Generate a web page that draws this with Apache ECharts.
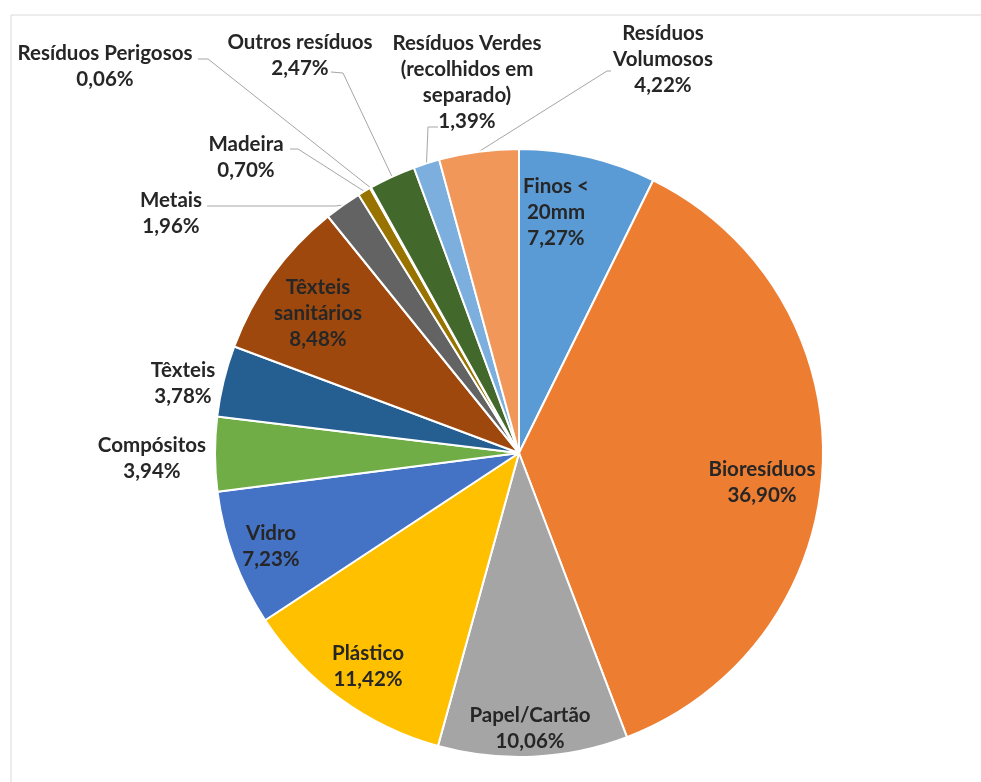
<!DOCTYPE html>
<html>
<head>
<meta charset="utf-8">
<script src="https://cdn.jsdelivr.net/npm/echarts@6/dist/echarts.min.js"></script>
<style>
  html, body { margin: 0; padding: 0; background: #fff; }
  #chart { width: 981px; height: 782px; }
</style>
</head>
<body>
<div id="chart"></div>
<script>
// categorias e percentagens
const categories = [
  "Finos <\n20mm",
  "Bioresíduos",
  "Papel/Cartão",
  "Plástico",
  "Vidro",
  "Compósitos",
  "Têxteis",
  "Têxteis\nsanitários",
  "Metais",
  "Madeira",
  "Resíduos Perigosos",
  "Outros resíduos",
  "Resíduos Verdes\n(recolhidos em\nseparado)",
  "Resíduos\nVolumosos",
];
const values = [7.27, 36.9, 10.06, 11.42, 7.23, 3.94, 3.78, 8.48, 1.96, 0.7, 0.06, 2.47, 1.39, 4.22];
const colors = [
  "#5B9BD5", "#ED7D31", "#A5A5A5", "#FFC000", "#4472C4", "#70AD47", "#255E91",
  "#9E480E", "#636363", "#997300", "#264478", "#43682B", "#7CAFDD", "#F1975A",
];
// rótulos dentro da fatia
const insideLabels = ["Finos <\n20mm", "Bioresíduos", "Papel/Cartão", "Plástico", "Vidro", "Têxteis\nsanitários"];
// rótulos sem linha de chamada
const noLine = ["Compósitos", "Têxteis"];

// posição dos rótulos (centro do bloco de texto) e cotovelos das linhas
const labelSpots = {
  0: { x: 556, y: 212 },
  1: { x: 762, y: 482 },
  2: { x: 530, y: 728 },
  3: { x: 368, y: 666 },
  4: { x: 271, y: 546 },
  5: { x: 152, y: 458 },
  6: { x: 183, y: 383 },
  7: { x: 318, y: 313 },
  8: { x: 171, y: 213, line: [[335, 206], [207, 206]] },
  9: { x: 246, y: 157, line: [[298, 149], [290, 149]] },
  10: { x: 105, y: 66, line: [[208, 59], [198, 59]] },
  11: { x: 300, y: 55, line: [[343, 73], [331, 72]] },
  12: { x: 467, y: 82, line: [[428, 127], [438, 127]] },
  13: { x: 663, y: 59, line: [[607, 71], [611, 71]] },
};

const fmt = (v) => v.toFixed(2).replace(".", ",") + "%";

let mChart = echarts.init(document.getElementById("chart"));

const seriesData = categories.map((name, i) => {
  const inside = insideLabels.includes(name);
  return {
    name: name,
    value: values[i],
    itemStyle: { color: colors[i] },
    label: { position: inside ? "inside" : "outside" },
    labelLine: { show: !inside && !noLine.includes(name) },
  };
});

const options = {
  animation: false,
  backgroundColor: "#fff",
  graphic: [
    {
      type: "rect",
      shape: { x: 11, y: 15, width: 1200, height: 1200 },
      style: { fill: "none", stroke: "#d9d9d9", lineWidth: 1 },
      silent: true,
    },
  ],
  series: [
    {
      type: "pie",
      center: [519, 453],
      radius: 304,
      startAngle: 90,
      clockwise: true,
      avoidLabelOverlap: false,
      minShowLabelAngle: 0,
      data: seriesData,
      itemStyle: { borderColor: "#fff", borderWidth: 2 },
      emphasis: { disabled: true },
      label: {
        show: true,
        formatter: (p) => p.name + "\n" + fmt(p.value),
        fontFamily: "Lato",
        fontWeight: "bold",
        fontSize: 20.5,
        lineHeight: 26,
        color: "#262626",
        align: "center",
      },
      labelLine: {
        length: 10,
        length2: 10,
        lineStyle: { color: "#a6a6a6", width: 1 },
      },
      labelLayout: (params) => {
        const spot = labelSpots[params.dataIndex];
        const res = { x: spot.x, y: spot.y, align: "center", verticalAlign: "middle" };
        if (spot.line && params.labelLinePoints) {
          res.labelLinePoints = [params.labelLinePoints[0], spot.line[0], spot.line[1]];
        }
        return res;
      },
    },
  ],
};
mChart.setOption(options);
</script>
</body>
</html>
